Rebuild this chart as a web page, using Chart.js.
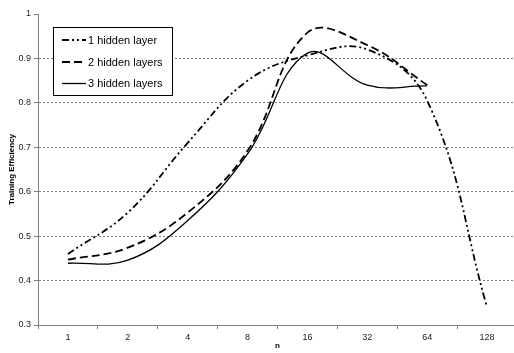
<!DOCTYPE html>
<html>
<head>
<meta charset="utf-8">
<script src="https://cdn.jsdelivr.net/npm/chart.js@4.4.1/dist/chart.umd.min.js"></script>
<style>
  html, body { margin: 0; padding: 0; background: #fff; overflow: hidden; width: 514px; height: 353px; }
  #wrap { width: 517px; height: 353px; }
</style>
</head>
<body>
<div id="wrap"><canvas id="c" width="517" height="353"></canvas></div>
<script>
const categories = ['1', '2', '4', '8', '16', '32', '64', '128'];
const oneHidden   = [0.460, 0.553, 0.710, 0.850, 0.907, 0.920, 0.805, 0.340];
const twoHidden   = [0.447, 0.474, 0.553, 0.692, 0.958, 0.930, 0.840, null];
const threeHidden = [0.439, 0.446, 0.535, 0.685, 0.912, 0.840, 0.838, null];
const seriesNames = ['1 hidden layer', '2 hidden layers', '3 hidden layers'];
const yTicks = [0.3, 0.4, 0.5, 0.6, 0.7, 0.8, 0.9, 1];

const FONT = "'Liberation Sans', Arial, sans-serif";
const dashes = [[7, 3, 2, 3, 2, 3], [8, 4], []];
const widths = [1.8, 1.8, 1.3];

const legendPlugin = {
  id: 'boxLegend',
  afterDraw(chart) {
    const ctx = chart.ctx;
    ctx.save();
    const bx = 53.5, by = 27.5, bw = 119, bh = 68;
    ctx.fillStyle = '#fff';
    ctx.fillRect(bx, by, bw, bh);
    ctx.strokeStyle = '#000';
    ctx.lineWidth = 1;
    ctx.setLineDash([]);
    ctx.strokeRect(bx, by, bw, bh);
    const rows = [40, 62, 83.5];
    chart.data.datasets.forEach((ds, i) => {
      const y = rows[i];
      ctx.beginPath();
      ctx.setLineDash(ds.borderDash || []);
      ctx.lineWidth = ds.borderWidth;
      ctx.strokeStyle = ds.borderColor;
      ctx.moveTo(62, y);
      ctx.lineTo(86, y);
      ctx.stroke();
      ctx.setLineDash([]);
      ctx.fillStyle = '#000';
      ctx.font = '11px ' + FONT;
      ctx.textBaseline = 'middle';
      ctx.textAlign = 'left';
      ctx.fillText(ds.label, 88, y + 0.5);
    });
    ctx.restore();
  }
};

const datasets = [oneHidden, twoHidden, threeHidden].map((vals, i) => ({
  label: seriesNames[i],
  data: vals,
  borderColor: '#000',
  backgroundColor: '#000',
  borderWidth: widths[i],
  borderDash: dashes[i],
  pointRadius: 0,
  pointHoverRadius: 0,
  fill: false,
  tension: 0.4,
  spanGaps: false
}));

new Chart(document.getElementById('c'), {
  type: 'line',
  data: { labels: categories, datasets },
  options: {
    responsive: false,
    animation: false,
    devicePixelRatio: 1,
    layout: { padding: { top: 14, right: 0, bottom: 0, left: 0 } },
    plugins: { legend: { display: false }, tooltip: { enabled: false } },
    scales: {
      x: {
        type: 'category',
        offset: true,
        grid: {
          offset: true,
          drawOnChartArea: false,
          drawTicks: true,
          tickLength: 4,
          tickColor: '#808080',
          tickWidth: 1
        },
        border: { display: true, color: '#808080', width: 1 },
        ticks: {
          color: '#222',
          font: { family: FONT, size: 9 },
          padding: 3,
          maxRotation: 0,
          autoSkip: false
        },
        title: {
          display: true,
          text: 'n',
          color: '#000',
          font: { family: FONT, size: 8, weight: 'bold' },
          padding: { top: 0, bottom: 2 }
        },
        afterFit(scale) { scale.height = 28; }
      },
      y: {
        type: 'linear',
        min: 0.3,
        max: 1,
        afterBuildTicks(scale) { scale.ticks = yTicks.map(v => ({ value: v })); },
        grid: {
          color: ctx => (ctx.tick && (Math.abs(ctx.tick.value - 1) < 1e-9 || Math.abs(ctx.tick.value - 0.3) < 1e-9)) ? 'rgba(0,0,0,0)' : '#7a7a7a',
          lineWidth: 1,
          drawTicks: true,
          tickLength: 4,
          tickColor: '#808080',
          tickWidth: 1,
          tickBorderDash: [1, 0]
        },
        border: { display: true, color: '#808080', width: 1, dash: [2, 2] },
        ticks: {
          color: '#222',
          font: { family: FONT, size: 9 },
          padding: 3,
          callback: v => String(+(+v).toFixed(1))
        },
        title: {
          display: true,
          text: 'Training Efficiency',
          color: '#000',
          font: { family: FONT, size: 8, weight: 'bold' },
          padding: { top: 7, bottom: 0 }
        },
        afterFit(scale) { scale.width = 38; }
      }
    }
  },
  plugins: [legendPlugin]
});
</script>
</body>
</html>
